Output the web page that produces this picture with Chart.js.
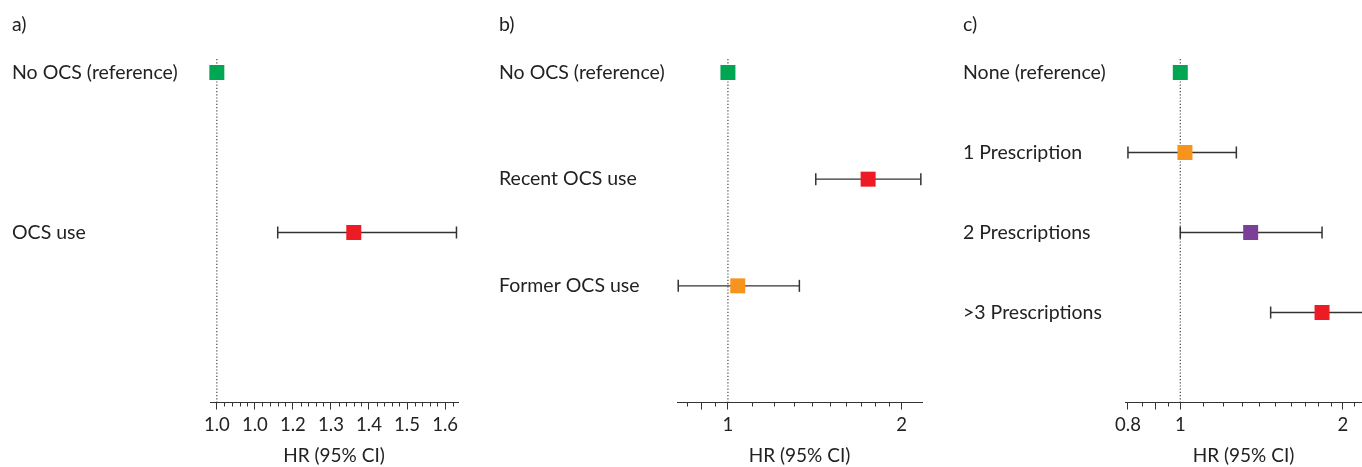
<!DOCTYPE html>
<html>
<head>
<meta charset="utf-8">
<script src="https://cdn.jsdelivr.net/npm/chart.js@4.4.1/dist/chart.umd.min.js"></script>
<style>
  html, body { margin: 0; padding: 0; background: #fff; }
  body { width: 1362px; height: 467px; position: relative; overflow: hidden; }
  canvas { position: absolute; top: 0; }
</style>
</head>
<body>
<canvas id="pa" width="480" height="467" style="left:0px"></canvas>
<canvas id="pb" width="460" height="467" style="left:480px"></canvas>
<canvas id="pc" width="417" height="467" style="left:945px"></canvas>
<script>
// ---------- Data ----------
const aCategories = ['No OCS (reference)', 'OCS use'];
const aHR   = [1.00, 1.36];
const aLow  = [null, 1.16];
const aHigh = [null, 1.63];
const aMajorTicks = [1.0, 1.1, 1.2, 1.3, 1.4, 1.5, 1.6];
const aTickLabels = ['1.0', '1.0', '1.2', '1.3', '1.4', '1.5', '1.6'];
const aMinorTicks = [1.02,1.04,1.06,1.08,1.12,1.14,1.16,1.18,1.22,1.24,1.26,1.28,1.32,1.34,1.36,1.38,1.42,1.44,1.46,1.48,1.52,1.54,1.56,1.58,1.62];

const bCategories = ['No OCS (reference)', 'Recent OCS use', 'Former OCS use'];
const bHR   = [1.00, 1.75, 1.04];
const bLow  = [null, 1.42, 0.82];
const bHigh = [null, 2.16, 1.33];
const bMajorTicks = [0.9, 1, 2];
const bTickLabels = ['', '1', '2'];
const bMinorTicks = [0.85, 0.95, 1.1, 1.2, 1.3, 1.4, 1.5, 1.6, 1.7, 1.8, 1.9];

const cCategories = ['None (reference)', '1 Prescription', '2 Prescriptions', '>3 Prescriptions'];
const cHR   = [1.00, 1.02, 1.35, 1.83];
const cLow  = [null, 0.80, 1.00, 1.47];
const cHigh = [null, 1.27, 1.83, 2.30];
const cMajorTicks = [0.8, 0.9, 1, 2];
const cTickLabels = ['0.8', '', '1', '2'];
const cMinorTicks = [0.85, 0.95, 1.1, 1.2, 1.3, 1.4, 1.5, 1.6, 1.7, 1.8, 1.9, 2.1];

// ---------- Styles ----------
const GREEN = '#00a651', RED = '#ed1c24', ORANGE = '#f7941d', PURPLE = '#7b3f98';
const aColors = [GREEN, RED];
const bColors = [GREEN, RED, ORANGE];
const cColors = [GREEN, ORANGE, PURPLE, RED];
const INK = '#333333';
const FONT = 'Lato';
Chart.defaults.font.family = FONT;
Chart.defaults.color = '#222';

const minorTickPlugin = {
  id: 'minorTicks',
  afterDraw(chart, args, opts) {
    const s = chart.scales.x, ctx = chart.ctx;
    ctx.save();
    ctx.strokeStyle = INK; ctx.lineWidth = 1;
    (opts.values || []).forEach(v => {
      if (v < s.min || v > s.max) return;
      const px = Math.round(s.getPixelForValue(v)) + 0.5;
      ctx.beginPath(); ctx.moveTo(px, s.top); ctx.lineTo(px, s.top + 4); ctx.stroke();
    });
    ctx.restore();
  }
};

function makePanel(id, p) {
  const n = p.categories.length;
  const slot = 320 / n;               // vertical spacing of rows within the plot
  const yMin = -13.5 / slot, yMax = 330 / slot;

  const datasets = [];
  datasets.push({
    type: 'scatter', order: 0,
    data: p.hr.map((v, i) => ({ x: v, y: i })),
    pointStyle: 'rect', pointRadius: 10.6, pointHoverRadius: 10.6,
    backgroundColor: p.colors, borderWidth: 0, clip: false
  });
  p.hr.forEach((v, i) => {
    if (p.low[i] == null) return;
    datasets.push({
      type: 'line', order: 1,
      data: [{ x: p.low[i], y: i }, { x: p.high[i], y: i }],
      borderColor: INK, borderWidth: 1.3,
      pointStyle: 'line', rotation: 90, pointRadius: 6, pointHoverRadius: 6,
      pointBorderColor: INK, pointBorderWidth: 1.5, clip: false
    });
  });
  datasets.push({
    type: 'line', order: 2,
    data: [{ x: 1, y: yMin }, { x: 1, y: yMax }],
    borderColor: '#444', borderWidth: 1.2, borderDash: [1.2, 2],
    pointRadius: 0
  });

  new Chart(document.getElementById(id), {
    type: 'scatter',
    data: { datasets },
    plugins: [minorTickPlugin],
    options: {
      responsive: false, animation: false, devicePixelRatio: 1,
      layout: { autoPadding: false, padding: { left: p.padLeft, right: p.padRight, top: 0, bottom: 0 } },
      plugins: {
        legend: { display: false }, tooltip: { enabled: false },
        title: {
          display: true, text: p.letter, align: 'start',
          font: { size: 19.5, weight: 'normal', family: FONT }, color: '#222',
          padding: { top: 13.5, bottom: 22.1 }
        },
        minorTicks: { values: p.minor }
      },
      scales: {
        x: {
          type: p.log ? 'logarithmic' : 'linear',
          min: p.xMin, max: p.xMax, bounds: 'data',
          afterBuildTicks: s => { s.ticks = p.major.map(v => ({ value: v })); },
          ticks: {
            autoSkip: false, maxRotation: 0, padding: 4,
            font: { size: 18.5, family: FONT }, color: '#222',
            callback: (val, idx) => p.tickLabels[idx]
          },
          grid: { display: true, drawOnChartArea: false, drawTicks: true, tickLength: 7, tickColor: INK, tickWidth: 1 },
          border: { display: true, color: INK, width: 1 },
          title: { display: true, text: 'HR (95% CI)', font: { size: 19, family: FONT }, color: '#222', padding: { top: 4.5, bottom: 0 } }
        },
        y: {
          type: 'linear', reverse: true, min: yMin, max: yMax,
          afterBuildTicks: s => { s.ticks = p.categories.map((c, i) => ({ value: i })); },
          afterFit: s => { s.width = p.yWidth; },
          ticks: {
            autoSkip: false, crossAlign: 'far', padding: 0,
            font: { size: 19.5, family: FONT }, color: '#222',
            callback: (val, idx) => p.categories[idx]
          },
          grid: { display: false, drawTicks: false },
          border: { display: false }
        }
      }
    }
  });
}

makePanel('pa', {
  letter: 'a)', categories: aCategories, hr: aHR, low: aLow, high: aHigh, colors: aColors,
  log: false, xMin: 0.982, xMax: 1.634, major: aMajorTicks, tickLabels: aTickLabels, minor: aMinorTicks,
  padLeft: 12, padRight: 22, yWidth: 198
});
makePanel('pb', {
  letter: 'b)', categories: bCategories, hr: bHR, low: bLow, high: bHigh, colors: bColors,
  log: true, xMin: 0.816, xMax: 2.17, major: bMajorTicks, tickLabels: bTickLabels, minor: bMinorTicks,
  padLeft: 19, padRight: 18, yWidth: 178
});
makePanel('pc', {
  letter: 'c)', categories: cCategories, hr: cHR, low: cLow, high: cHigh, colors: cColors,
  log: true, xMin: 0.79, xMax: 2.17, major: cMajorTicks, tickLabels: cTickLabels, minor: cMinorTicks,
  padLeft: 18, padRight: 0, yWidth: 162
});
</script>
</body>
</html>
